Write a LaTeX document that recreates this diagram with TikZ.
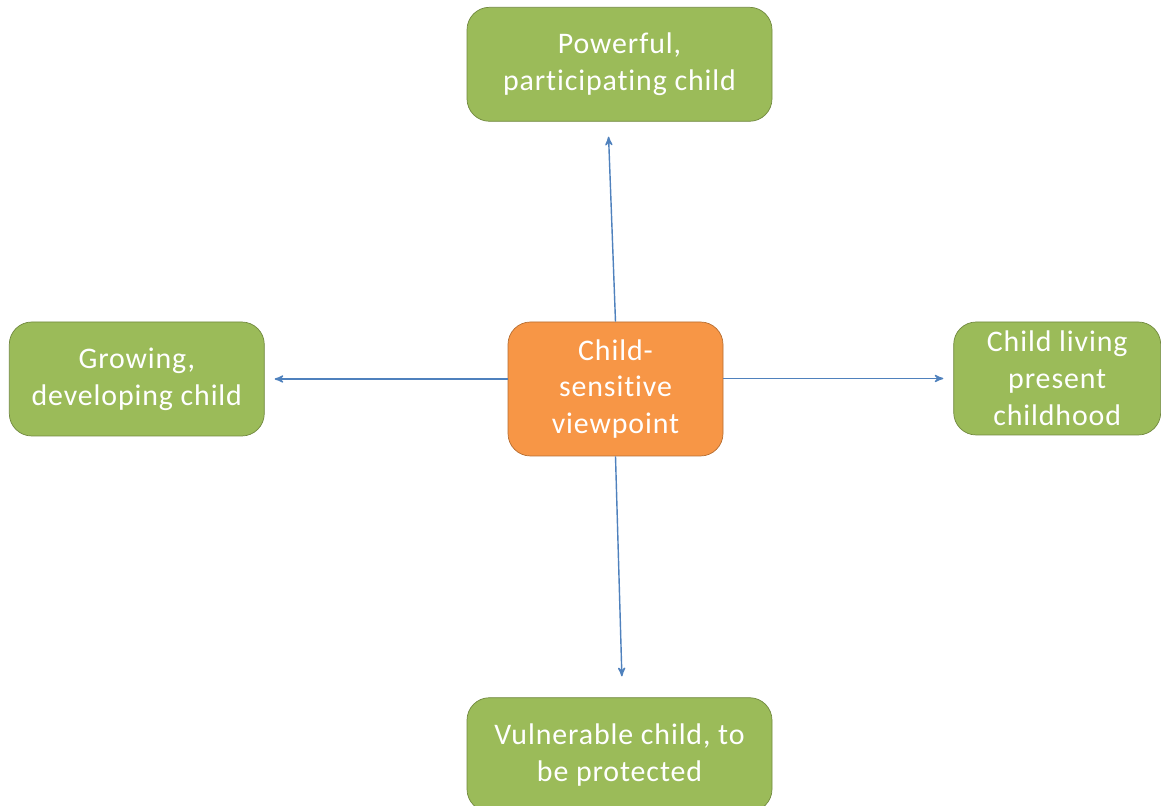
\documentclass[tikz,border=0pt]{standalone}
\usepackage{fontspec}
\setmainfont[Ligatures=NoCommon,LetterSpace=3]{Carlito}
\usetikzlibrary{arrows,positioning}
\definecolor{leafgreen}{HTML}{9BBB59}
\definecolor{leafedge}{HTML}{71893F}
\definecolor{viewfill}{HTML}{F79646}
\definecolor{viewedge}{HTML}{B66D31}
\definecolor{linkblue}{HTML}{4F81BD}

\begin{document}
\begin{tikzpicture}[->,>=stealth',
  every node/.style={text=white,align=center,font=\fontsize{17}{21}\selectfont},
  childbox/.style={draw=leafedge,fill=leafgreen,rounded corners=0.45cm,minimum height=2.28cm},
  viewbox/.style={draw=viewedge,fill=viewfill,rounded corners=0.45cm,minimum width=4.3cm,minimum height=2.68cm},
  link/.style={color=linkblue,line width=0.8pt}]
  \clip (-12.31,-8.34) rectangle (10.91,7.78);

  \node[viewbox] (view) at (0,0) {Child-\\sensitive\\viewpoint};
  \node[childbox,minimum width=6.1cm] (power) [above=4cm of view,xshift=0.08cm] {Powerful,\\participating child};
  \node[childbox,minimum width=5.1cm] (grow)  [below left=0cm and 4.86cm of view.north west] {Growing,\\developing child};
  \node[childbox,minimum width=4.14cm,minimum height=2.26cm] (now) [below right=0cm and 4.6cm of view.north east] {Child living\\present\\childhood};
  \node[childbox,minimum width=6.1cm] (safe)  [below=4.82cm of view,xshift=0.08cm] {Vulnerable child, to\\be protected};

  \path (view.north)        edge [link,shorten >=0.3cm]  ([xshift=-0.23cm]power.south)
        (view.west |- grow.east) edge [link,shorten >=0.2cm]  (grow.east)
        (view.east |- now.west)  edge [link,shorten >=0.2cm]  (now.west)
        (view.south)        edge [link,shorten >=0.42cm] ([xshift=0.06cm]safe.north)
        ;
\end{tikzpicture}
\end{document}
